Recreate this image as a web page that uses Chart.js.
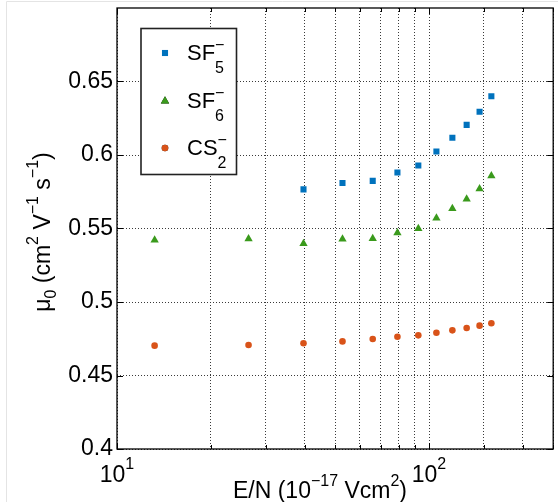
<!DOCTYPE html>
<html>
<head>
<meta charset="utf-8">
<style>
  html, body { margin: 0; padding: 0; background: #fff; }
  canvas { display: block; }
</style>
<script src="https://cdn.jsdelivr.net/npm/chart.js@4/dist/chart.umd.min.js"></script>
</head>
<body>
<canvas id="c" width="558" height="502"></canvas>
<script>
// Reduced field E/N (10^-17 V cm^2) of each measurement
const enValues = [13.2, 26.4, 39.6, 52.8, 66.0, 79.2, 92.4, 105.6, 118.8, 132.0, 145.2, 158.4];

// Reduced mobility mu_0 (cm^2 V^-1 s^-1) per ion species
const sf5Field = [39.6, 52.8, 66.0, 79.2, 92.4, 105.6, 118.8, 132.0, 145.2, 158.4];
const sf5Mobility = [0.5766, 0.5809, 0.5824, 0.5881, 0.5929, 0.6024, 0.6117, 0.6205, 0.6294, 0.6400];
const sf6Mobility = [0.5421, 0.5430, 0.5398, 0.5428, 0.5432, 0.5471, 0.5500, 0.5571, 0.5636, 0.5700, 0.5770, 0.5858];
const cs2Mobility = [0.4703, 0.4707, 0.4719, 0.4732, 0.4748, 0.4764, 0.4773, 0.4791, 0.4807, 0.4823, 0.4839, 0.4855];

// Axis ticks
const yTickValues = [0.4, 0.45, 0.5, 0.55, 0.6, 0.65];
const xDecadeExponents = [1, 2];

// Legend entries: base text, superscript, subscript
const legendEntries = [
  { base: 'SF', sup: '\u2212', sub: '5' },
  { base: 'SF', sup: '\u2212', sub: '6' },
  { base: 'CS', sup: '\u2212', sub: '2' }
];

const FONT = '"Liberation Sans", Arial, Helvetica, sans-serif';
Chart.defaults.font.family = FONT;

function pairs(xs, ys) {
  return xs.map((x, i) => ({ x: x, y: ys[i] }));
}

// Draws a run of text pieces, each with its own size and baseline offset
function drawRich(ctx, parts, x, y, align) {
  let total = 0;
  const widths = parts.map(p => {
    ctx.font = p.size + 'px ' + FONT;
    const w = ctx.measureText(p.t).width;
    total += w;
    return w;
  });
  let cx = align === 'center' ? x - total / 2 : x;
  ctx.textAlign = 'left';
  ctx.textBaseline = 'alphabetic';
  parts.forEach((p, i) => {
    ctx.font = p.size + 'px ' + FONT;
    ctx.fillText(p.t, cx, y + (p.dy || 0));
    cx += widths[i];
  });
}

const decorations = {
  id: 'decorations',
  beforeDatasetsDraw(chart) {
    const ctx = chart.ctx;
    const a = chart.chartArea;
    const xs = chart.scales.x, ys = chart.scales.y;
    ctx.save();
    // faint outer page edge
    ctx.strokeStyle = '#e4e4e4';
    ctx.lineWidth = 1;
    ctx.beginPath();
    ctx.moveTo(6.5, 502); ctx.lineTo(6.5, 1.5); ctx.lineTo(558, 1.5);
    ctx.stroke();

    // axes frame
    ctx.strokeStyle = '#000';
    ctx.lineWidth = 1.3;
    ctx.strokeRect(a.left, a.top, a.right - a.left, a.bottom - a.top);

    // inward tick marks
    ctx.lineWidth = 1;
    ctx.beginPath();
    xs.ticks.forEach(t => {
      const px = Math.round(xs.getPixelForValue(t.value)) + 0.5;
      const major = xDecadeExponents.some(e => Math.abs(t.value - Math.pow(10, e)) < 1e-9);
      const len = major ? 6 : 4;
      ctx.moveTo(px, a.bottom); ctx.lineTo(px, a.bottom - len);
      ctx.moveTo(px, a.top); ctx.lineTo(px, a.top + len);
    });
    yTickValues.forEach(v => {
      const py = Math.round(ys.getPixelForValue(v)) + 0.5;
      ctx.moveTo(a.left, py); ctx.lineTo(a.left + 6, py);
      ctx.moveTo(a.right, py); ctx.lineTo(a.right - 6, py);
    });
    ctx.stroke();
    ctx.restore();
  },
  afterDraw(chart) {
    const ctx = chart.ctx;
    const xs = chart.scales.x;
    ctx.save();
    ctx.fillStyle = '#000';

    // decade labels 10^n under the x axis
    xDecadeExponents.forEach(e => {
      const px = xs.getPixelForValue(Math.pow(10, e));
      drawRich(ctx, [
        { t: '10', size: 23 },
        { t: String(e), size: 16, dy: -13 }
      ], px, 482, 'center');
    });

    // x axis title
    drawRich(ctx, [
      { t: 'E/N (10', size: 23 },
      { t: '\u221217', size: 16, dy: -12 },
      { t: ' Vcm', size: 23 },
      { t: '2', size: 16, dy: -12 },
      { t: ')', size: 23 }
    ], 320, 498, 'center');

    // y axis title (rotated)
    ctx.save();
    ctx.translate(50, 232);
    ctx.rotate(-Math.PI / 2);
    drawRich(ctx, [
      { t: '\u03bc', size: 23 },
      { t: '0', size: 16, dy: 6 },
      { t: ' (cm', size: 23 },
      { t: '2', size: 16, dy: -12 },
      { t: ' V', size: 23 },
      { t: '\u22121', size: 16, dy: -12 },
      { t: ' s', size: 23 },
      { t: '\u22121', size: 16, dy: -12 },
      { t: ')', size: 23 }
    ], 0, 0, 'center');
    ctx.restore();

    // legend box
    const box = { left: 141, top: 28.5, right: 236.5, bottom: 174.5 };
    ctx.fillStyle = '#fff';
    ctx.fillRect(box.left, box.top, box.right - box.left, box.bottom - box.top);
    ctx.strokeStyle = '#222';
    ctx.lineWidth = 1.6;
    ctx.strokeRect(box.left, box.top, box.right - box.left, box.bottom - box.top);

    const rows = [53, 101, 148];
    chart.data.datasets.forEach((ds, i) => {
      const y = rows[i];
      Chart.helpers.drawPoint(ctx, {
        pointStyle: ds.pointStyle,
        radius: ds.pointRadius,
        borderWidth: 0,
        rotation: 0
      }, 165, y);
      ctx.fillStyle = ds.backgroundColor;
      ctx.fill();
      ctx.fillStyle = '#000';
      const entry = legendEntries[i];
      ctx.font = '22px ' + FONT;
      const w = ctx.measureText(entry.base).width;
      ctx.textAlign = 'left';
      ctx.textBaseline = 'alphabetic';
      ctx.fillText(entry.base, 187, y + 7);
      ctx.font = '16px ' + FONT;
      ctx.fillText(entry.sup, 187 + w, y - 3);
      ctx.fillText(entry.sub, 187 + w, y + 20);
    });
    ctx.restore();
  }
};

const gridStyle = {
  color: '#3a3a3a',
  lineWidth: 1,
  drawTicks: false
};

new Chart(document.getElementById('c'), {
  type: 'scatter',
  data: {
    datasets: [
      {
        label: 'SF5-',
        data: pairs(sf5Field, sf5Mobility),
        pointStyle: 'rect',
        pointRadius: 4.3,
        borderWidth: 0,
        backgroundColor: '#0072BD',
        borderColor: '#0072BD'
      },
      {
        label: 'SF6-',
        data: pairs(enValues, sf6Mobility),
        pointStyle: 'triangle',
        pointRadius: 4.8,
        borderWidth: 0,
        backgroundColor: '#3A9A1C',
        borderColor: '#3A9A1C'
      },
      {
        label: 'CS2-',
        data: pairs(enValues, cs2Mobility),
        pointStyle: 'circle',
        pointRadius: 3.3,
        borderWidth: 0,
        backgroundColor: '#D95319',
        borderColor: '#D95319'
      }
    ]
  },
  options: {
    responsive: false,
    devicePixelRatio: 1,
    animation: false,
    layout: { padding: { top: 8, right: 1, left: 0, bottom: 0 } },
    plugins: {
      legend: { display: false },
      tooltip: { enabled: false }
    },
    scales: {
      x: {
        type: 'logarithmic',
        min: 10,
        max: 250,
        grid: gridStyle,
        border: { display: false, dash: [1, 2] },
        ticks: { display: false },
        afterFit(scale) {
          scale.height = 53;
          scale.paddingLeft = 0;
          scale.paddingRight = 0;
        }
      },
      y: {
        type: 'linear',
        min: 0.4,
        max: 0.7,
        grid: gridStyle,
        border: { display: false, dash: [1, 2] },
        afterBuildTicks(scale) {
          scale.ticks = yTickValues.map(v => ({ value: v }));
        },
        ticks: {
          color: '#000',
          padding: 4,
          font: { size: 23 },
          callback: v => String(+v.toFixed(2))
        },
        afterFit(scale) {
          scale.width = 117;
          scale.paddingTop = 0;
          scale.paddingBottom = 0;
        }
      }
    }
  },
  plugins: [decorations]
});
</script>
</body>
</html>
